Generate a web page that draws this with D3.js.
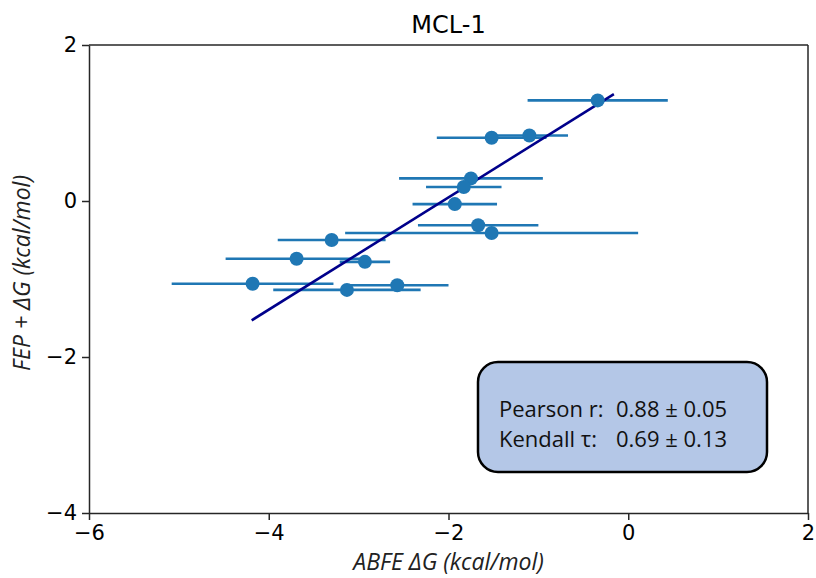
<!DOCTYPE html>
<html>
<head>
<meta charset="utf-8">
<script src="https://cdnjs.cloudflare.com/ajax/libs/d3/7.8.5/d3.min.js"></script>
<style>
    body { margin: 0; background: #fff; }
    .tick text { font-family: "DejaVu Sans", sans-serif; font-size: 21px; fill: #000; }
    .axis path, .axis line { stroke: #262626; stroke-width: 1.5px; }
    .axlabel { font-family: "Open Sans", sans-serif; font-style: italic; font-size: 23px; fill: #222; }
    .stat { font-family: "Open Sans", sans-serif; font-size: 22px; fill: #111; }
</style>
</head>
<body>
<div id="chart"></div>
<script>

// ABFE dG (x) with its error, FEP+ dG (y)
const abfe    = [-0.34, -1.52, -1.10, -1.75, -1.83, -1.93, -1.67, -1.52, -3.30, -3.69, -2.93, -4.18, -2.57, -3.13];
const abfeErr = [ 0.78,  0.61,  0.43,  0.80,  0.42,  0.47,  0.67,  1.63,  0.60,  0.79,  0.28,  0.90,  0.57,  0.82];
const fep     = [ 1.29,  0.81,  0.84,  0.29,  0.18, -0.04, -0.31, -0.41, -0.50, -0.74, -0.78, -1.06, -1.08, -1.14];

// regression line end points
const fitX = [-4.19, -0.16];
const fitY = [-1.53, 1.37];

const xTicks = [-6, -4, -2, 0, 2];
const yTicks = [-4, -2, 0, 2];

const statNames  = ["Pearson r:", "Kendall \u03c4:"];
const statValues = ["0.88 \u00b1 0.05", "0.69 \u00b1 0.13"];

const title = "MCL-1";

const W = 816, H = 578;
const margin = {top: 45, right: 8, bottom: 65, left: 89};
const width = W - margin.left - margin.right;
const height = H - margin.top - margin.bottom;

const svg = d3.select("#chart").append("svg")
    .attr("width", W)
    .attr("height", H);

const g = svg.append("g")
    .attr("transform", "translate(" + margin.left + "," + margin.top + ")");

const x = d3.scaleLinear().domain([-6, 2]).range([0, width]);
const y = d3.scaleLinear().domain([-4, 2]).range([height, 0]);

const fmt = d3.format("d");

// axes
g.append("g")
    .attr("class", "axis")
    .attr("transform", "translate(0," + height + ")")
    .call(d3.axisBottom(x).tickValues(xTicks).tickFormat(fmt).tickSize(7).tickPadding(5).tickSizeOuter(0));

g.append("g")
    .attr("class", "axis")
    .call(d3.axisLeft(y).tickValues(yTicks).tickFormat(fmt).tickSize(7).tickPadding(5).tickSizeOuter(0));

// top and right spines
g.append("line").attr("class", "spine")
    .attr("x1", 0).attr("x2", width).attr("y1", 0).attr("y2", 0)
    .attr("stroke", "#262626").attr("stroke-width", 1.5);
g.append("line").attr("class", "spine")
    .attr("x1", width).attr("x2", width).attr("y1", 0).attr("y2", height)
    .attr("stroke", "#262626").attr("stroke-width", 1.5);

const pts = abfe.map((d, i) => ({x: d, err: abfeErr[i], y: fep[i]}));

// error bars
g.selectAll(".errbar")
    .data(pts)
    .enter()
    .append("line")
    .attr("class", "errbar")
    .attr("x1", d => x(d.x - d.err))
    .attr("x2", d => x(d.x + d.err))
    .attr("y1", d => y(d.y))
    .attr("y2", d => y(d.y))
    .attr("stroke", "#1f77b4")
    .attr("stroke-width", 2.6);

// fit line
g.append("line")
    .attr("x1", x(fitX[0])).attr("y1", y(fitY[0]))
    .attr("x2", x(fitX[1])).attr("y2", y(fitY[1]))
    .attr("stroke", "#00008b")
    .attr("stroke-width", 2.6);

// points
g.selectAll(".dot")
    .data(pts)
    .enter()
    .append("circle")
    .attr("class", "dot")
    .attr("cx", d => x(d.x))
    .attr("cy", d => y(d.y))
    .attr("r", 7)
    .attr("fill", "#1f77b4");

// title
svg.append("text")
    .attr("x", margin.left + width / 2)
    .attr("y", 33)
    .attr("text-anchor", "middle")
    .style("font-family", "DejaVu Sans, sans-serif")
    .style("font-size", "24px")
    .text(title);

// axis labels
svg.append("text")
    .attr("class", "axlabel")
    .attr("x", margin.left + width / 2)
    .attr("y", 570)
    .attr("text-anchor", "middle")
    .text("ABFE \u0394G (kcal/mol)");

svg.append("text")
    .attr("class", "axlabel")
    .attr("transform", "translate(30," + 273 + ") rotate(-90)")
    .attr("text-anchor", "middle")
    .text("FEP + \u0394G (kcal/mol)");

// stats box
svg.append("rect")
    .attr("x", 478).attr("y", 362)
    .attr("width", 289).attr("height", 110)
    .attr("rx", 20).attr("ry", 20)
    .attr("fill", "#b4c7e7")
    .attr("stroke", "#000")
    .attr("stroke-width", 2.5);

statNames.forEach(function(s, i) {
    svg.append("text").attr("class", "stat")
        .attr("x", 499).attr("y", 417 + i * 30)
        .text(s);
    svg.append("text").attr("class", "stat")
        .attr("x", 616).attr("y", 417 + i * 30)
        .text(statValues[i]);
});

</script>
</body>
</html>
